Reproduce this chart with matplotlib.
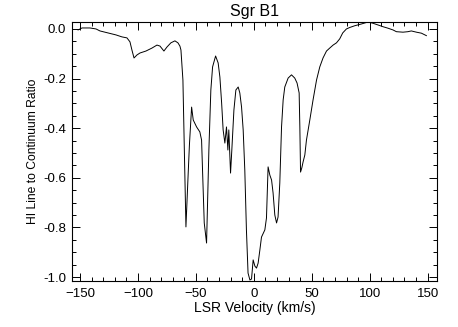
import matplotlib
matplotlib.use("Agg")
import matplotlib.pyplot as plt
from matplotlib.ticker import MultipleLocator, FormatStrFormatter

plt.rcParams['font.family'] = ['Liberation Sans', 'DejaVu Sans']

title = "Sgr B1"
xlabel = "LSR Velocity (km/s)"
ylabel = "HI Line to Continuum Ratio"

velocity = [-151.7, -148.3, -141.4, -136.2, -132.8, -125.9, -119.0, -113.8, -109.5, -106.9,
            -105.2, -103.4, -100.9, -98.3, -93.1, -87.9, -83.6, -81.0, -77.6, -75.0,
            -71.6, -68.1, -65.5, -63.8, -62.9, -61.2, -59.8, -58.6, -56.9, -55.6,
            -53.7, -52.3, -49.4, -46.6, -45.1, -44.0, -42.8, -40.8, -38.8, -37.1,
            -35.6, -33.0, -30.8, -29.3, -27.8, -26.5, -25.0, -23.6, -22.4, -21.6,
            -20.1, -19.0, -17.2, -15.5, -13.5, -12.1, -10.6, -9.2, -7.8, -6.4,
            -5.0, -3.4, -2.0, -0.6, 0.9, 2.3, 3.7, 5.2, 6.6, 9.5,
            10.9, 12.3, 13.8, 15.3, 16.6, 18.1, 19.6, 20.9, 22.4, 23.9,
            25.3, 26.7, 29.6, 32.5, 35.3, 37.3, 39.1, 39.7, 40.3, 41.4,
            42.5, 44.0, 45.4, 48.3, 51.1, 54.1, 56.9, 59.7, 62.7, 65.5,
            68.4, 71.3, 74.1, 76.7, 79.9, 82.8, 87.1, 92.8, 98.5, 102.8,
            107.2, 111.5, 115.8, 120.1, 123.0, 128.7, 133.0, 135.9, 140.3, 144.6,
            148.9]
ratio = [-0.004, 0.004, 0.004, 0.000, -0.008, -0.016, -0.024, -0.032, -0.036, -0.052,
         -0.085, -0.117, -0.105, -0.097, -0.089, -0.077, -0.065, -0.069, -0.089, -0.073,
         -0.056, -0.048, -0.056, -0.069, -0.085, -0.206, -0.528, -0.798, -0.609, -0.468,
         -0.315, -0.367, -0.395, -0.415, -0.448, -0.609, -0.782, -0.863, -0.488, -0.246,
         -0.153, -0.109, -0.137, -0.194, -0.298, -0.407, -0.460, -0.395, -0.488, -0.407,
         -0.581, -0.488, -0.327, -0.246, -0.234, -0.258, -0.315, -0.407, -0.569, -0.810,
         -0.984, -1.012, -1.008, -0.931, -0.956, -0.964, -0.944, -0.891, -0.839, -0.810,
         -0.762, -0.556, -0.589, -0.609, -0.661, -0.750, -0.782, -0.758, -0.621, -0.395,
         -0.286, -0.234, -0.198, -0.185, -0.198, -0.218, -0.258, -0.395, -0.577, -0.560,
         -0.536, -0.508, -0.448, -0.367, -0.286, -0.206, -0.153, -0.117, -0.089, -0.077,
         -0.065, -0.056, -0.040, -0.016, 0.000, 0.006, 0.013, 0.020, 0.028, 0.023,
         0.016, 0.009, 0.003, -0.004, -0.011, -0.013, -0.011, -0.008, -0.013, -0.017,
         -0.027]

fig = plt.figure(figsize=(4.58, 3.27), dpi=100)
ax = fig.add_axes([0.157, 0.1407, 0.797, 0.792])
ax.plot(velocity, ratio, color='black', linewidth=0.7)

ax.set_xlim(-157, 158)
ax.set_ylim(-1.016, 0.028)
ax.xaxis.set_major_locator(MultipleLocator(50))
ax.xaxis.set_minor_locator(MultipleLocator(10))
ax.yaxis.set_major_locator(MultipleLocator(0.2))
ax.yaxis.set_minor_locator(MultipleLocator(0.05))
ax.yaxis.set_major_formatter(FormatStrFormatter('%.1f'))
ax.tick_params(which='both', direction='in', top=True, right=True, width=0.7, color='black')
ax.tick_params(which='major', length=6, labelsize=9.5)
ax.tick_params(which='minor', length=3)
ax.tick_params(axis='x', which='major', pad=5)
ax.tick_params(axis='y', which='major', pad=4)
for s in ax.spines.values():
    s.set_linewidth(0.8)

ax.set_title(title, fontsize=11.5, pad=4)
ax.set_xlabel(xlabel, fontsize=10, labelpad=1)
ax.set_ylabel(ylabel, fontsize=8.7, labelpad=3)

fig.savefig("out.png", dpi=100)
